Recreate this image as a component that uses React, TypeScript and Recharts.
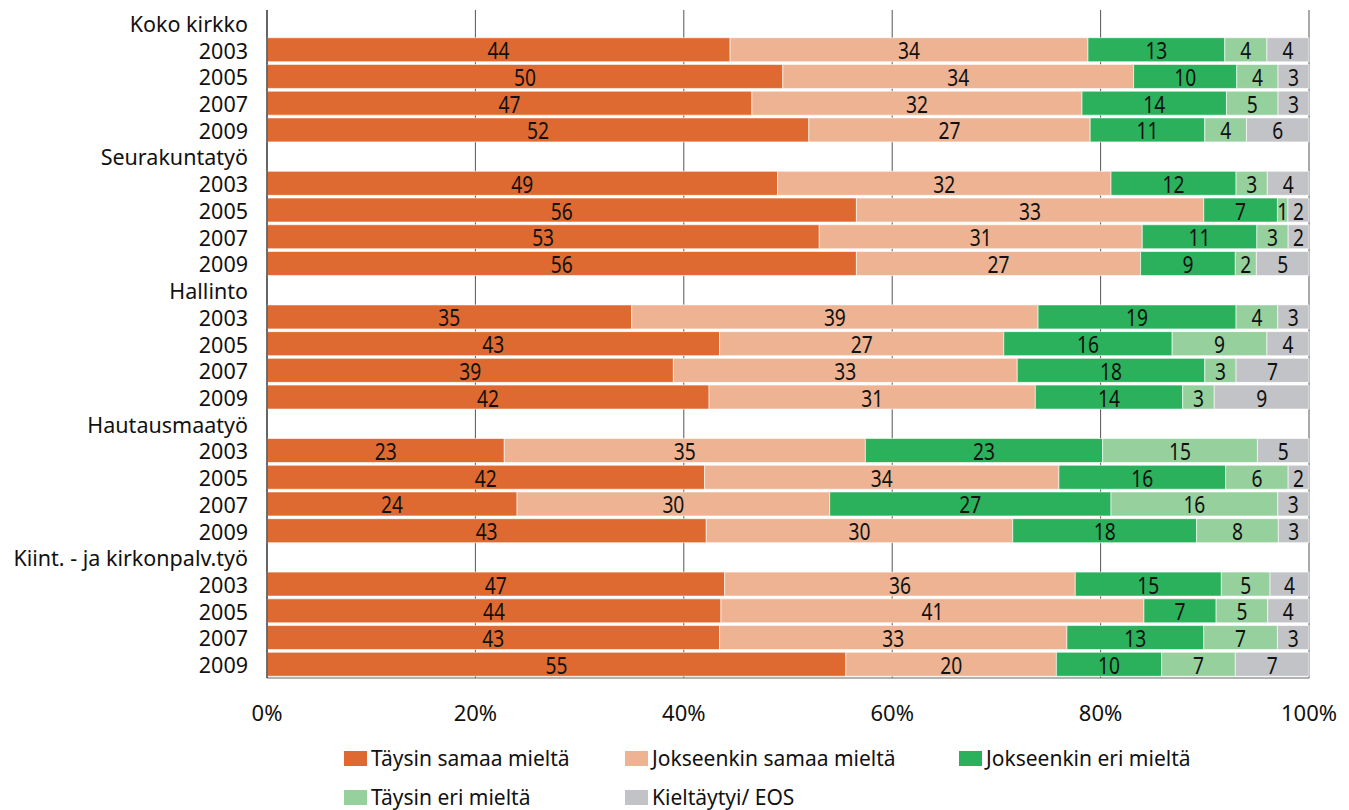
import React from 'react';
import { BarChart, Bar, XAxis, YAxis, CartesianGrid, LabelList, Legend } from 'recharts';

const groups = ['Koko kirkko', 'Seurakuntatyö', 'Hallinto', 'Hautausmaatyö', 'Kiint. - ja kirkonpalv.työ'];
const years = ['2003', '2005', '2007', '2009'];

const seriesNames = ['Täysin samaa mieltä', 'Jokseenkin samaa mieltä', 'Jokseenkin eri mieltä', 'Täysin eri mieltä', 'Kieltäytyi/ EOS'];
const seriesKeys = ['s0', 's1', 's2', 's3', 's4'];
const seriesColors = ['#DF6A31', '#EDB392', '#2BB15B', '#96D09D', '#C2C3C7'];

// values per row: groups x years (2003, 2005, 2007, 2009)
const taysinSamaa = [44, 50, 47, 52, 49, 56, 53, 56, 35, 43, 39, 42, 23, 42, 24, 43, 47, 44, 43, 55];
const jokseenkinSamaa = [34, 34, 32, 27, 32, 33, 31, 27, 39, 27, 33, 31, 35, 34, 30, 30, 36, 41, 33, 20];
const jokseenkinEri = [13, 10, 14, 11, 12, 7, 11, 9, 19, 16, 18, 14, 23, 16, 27, 18, 15, 7, 13, 10];
const taysinEri = [4, 4, 5, 4, 3, 1, 3, 2, 4, 9, 3, 3, 15, 6, 16, 8, 5, 5, 7, 7];
const kieltaytyi = [4, 3, 3, 6, 4, 2, 2, 5, 3, 4, 7, 9, 5, 2, 3, 3, 4, 4, 3, 7];

const xTicks = [0, 0.2, 0.4, 0.6, 0.8, 1];

const seriesValues = [taysinSamaa, jokseenkinSamaa, jokseenkinEri, taysinEri, kieltaytyi];

type Row = { key: string; label: string; [k: string]: any };
const rows: Row[] = [];
groups.forEach((g, gi) => {
  const header: Row = { key: g, label: g };
  seriesKeys.forEach((k) => (header[k] = 0));
  rows.push(header);
  years.forEach((y, yi) => {
    const i = gi * years.length + yi;
    const r: Row = { key: `${g}|${y}`, label: y };
    seriesKeys.forEach((k, si) => (r[k] = seriesValues[si][i]));
    rows.push(r);
  });
});
const rowByKey: Record<string, Row> = {};
rows.forEach((r) => (rowByKey[r.key] = r));

const FONT = "'Noto Sans', sans-serif";

const YTick = (props: any) => {
  const { x, y, payload } = props;
  const row = rowByKey[payload.value];
  return (
    <text x={x - 11} y={y} textAnchor="end" dominantBaseline="central" fontSize={21.5} fontFamily={FONT} fill="#111">
      {row ? row.label : ''}
    </text>
  );
};

const XTick = (props: any) => {
  const { x, y, payload } = props;
  return (
    <text x={x} y={y + 26} textAnchor="middle" dominantBaseline="central" fontSize={22} fontFamily={FONT} fill="#111">
      {`${Math.round(payload.value * 100)}%`}
    </text>
  );
};

const DIGIT_W = 11;

const renderBarLabel = (props: any) => {
  const { x, y, width, height, value } = props;
  if (!value) return null;
  const cx = Number(x) + Number(width) / 2;
  const cy = Number(y) + Number(height) / 2;
  const str = String(value);
  return (
    <text
      x={cx}
      y={cy}
      textAnchor="middle"
      dominantBaseline="central"
      fontSize={24}
      fontFamily={FONT}
      fill="#111"
      textLength={str.length * DIGIT_W}
      lengthAdjust="spacingAndGlyphs"
    >
      {str}
    </text>
  );
};

const legendSlots = [
  { left: 336, top: 16 },
  { left: 617, top: 16 },
  { left: 951, top: 16 },
  { left: 336, top: 55 },
  { left: 617, top: 55 },
];

const renderLegend = () => (
  <div style={{ position: 'relative', height: 80, width: '100%', fontFamily: FONT, fontSize: 21, color: '#111' }}>
    {seriesNames.map((n, i) => (
      <div
        key={n}
        style={{
          position: 'absolute',
          left: legendSlots[i].left,
          top: legendSlots[i].top,
          height: 24,
          display: 'flex',
          alignItems: 'center',
          whiteSpace: 'nowrap',
        }}
      >
        <span style={{ display: 'inline-block', width: 23, height: 15, background: seriesColors[i], marginRight: 4 }} />
        <span>{n}</span>
      </div>
    ))}
  </div>
);

export default function App() {
  return (
    <div style={{ fontFamily: FONT }}>
      <BarChart
        width={1341}
        height={802}
        data={rows}
        layout="vertical"
        stackOffset="expand"
        margin={{ top: 2, right: 40, bottom: 0, left: 0 }}
      >
        <CartesianGrid horizontal={false} vertical={true} stroke="#555" strokeWidth={1} />
        <XAxis
          type="number"
          domain={[0, 1]}
          ticks={xTicks}
          tickLine={false}
          axisLine={{ stroke: '#666' }}
          height={52}
          tick={<XTick />}
          interval={0}
        />
        <YAxis
          type="category"
          dataKey="key"
          width={259}
          tickLine={false}
          axisLine={{ stroke: '#222' }}
          tick={<YTick />}
          interval={0}
        />
        <Legend verticalAlign="bottom" content={renderLegend} />
        {seriesKeys.map((k, i) => (
          <Bar
            key={k}
            dataKey={k}
            name={seriesNames[i]}
            stackId="a"
            fill={seriesColors[i]}
            stroke="#ffffff"
            strokeWidth={0.6}
            barSize={24}
            isAnimationActive={false}
          >
            <LabelList dataKey={k} content={renderBarLabel} />
          </Bar>
        ))}
      </BarChart>
    </div>
  );
}
